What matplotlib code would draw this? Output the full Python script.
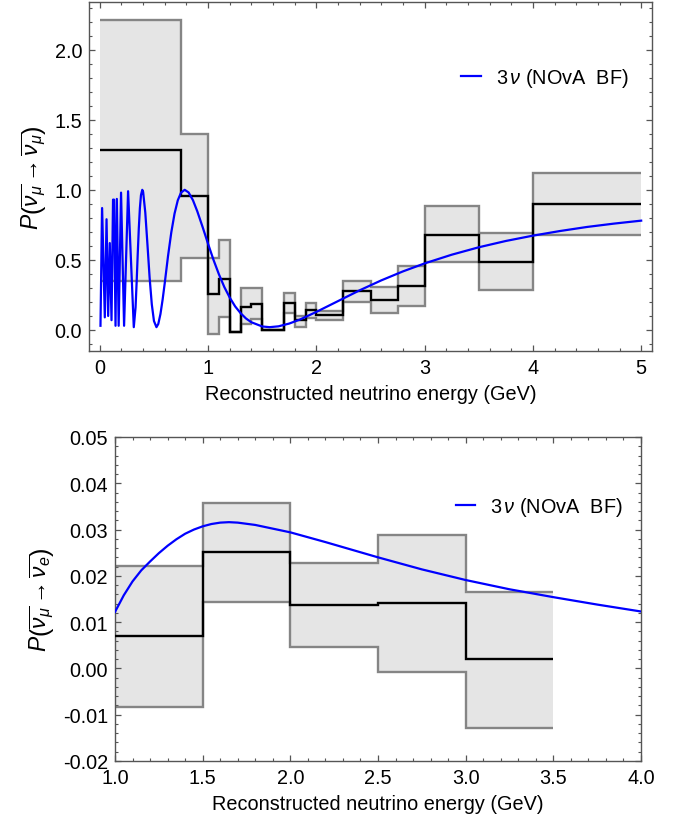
import numpy as np
import matplotlib
matplotlib.use("Agg")
import matplotlib.pyplot as plt
from matplotlib.ticker import MultipleLocator, FormatStrFormatter

plt.rcParams['font.family'] = ['Liberation Sans', 'DejaVu Sans']
plt.rcParams['mathtext.fontset'] = 'custom'
plt.rcParams['mathtext.rm'] = 'Liberation Sans'
plt.rcParams['mathtext.it'] = 'Liberation Sans:italic'
plt.rcParams['mathtext.bf'] = 'Liberation Sans:bold'
plt.rcParams['axes.unicode_minus'] = True

# ---------------- Top panel: nu_mu-bar disappearance ----------------
mu_edges = [0.0, 0.75, 1.0, 1.1, 1.2, 1.3, 1.4, 1.5, 1.6, 1.7, 1.8, 1.9, 2.0,
            2.25, 2.5, 2.75, 3.0, 3.5, 4.0, 5.0]
mu_center = [1.284, 0.957, 0.255, 0.367, -0.016, 0.167, 0.184, 0.0, 0.0, 0.196,
             0.07, 0.14, 0.107, 0.276, 0.214, 0.314, 0.679, 0.486, 0.898]
mu_upper = [2.214, 1.40, 0.517, 0.643, -0.016, 0.303, 0.303, 0.0, 0.0, 0.267,
            0.10, 0.196, 0.136, 0.35, 0.31, 0.457, 0.881, 0.691, 1.119]
mu_lower = [0.35, 0.517, -0.031, 0.093, -0.016, 0.041, 0.076, 0.0, 0.0, 0.124,
            0.02, 0.082, 0.071, 0.203, 0.124, 0.171, 0.486, 0.286, 0.679]

mu_curve_E = [0.006, 0.021, 0.046, 0.062, 0.077, 0.092, 0.108, 0.122, 0.131, 0.145,
              0.157, 0.174, 0.196, 0.224, 0.261, 0.3136, 0.33, 0.34, 0.35, 0.36,
              0.37, 0.38, 0.392, 0.40, 0.42, 0.44, 0.46, 0.48, 0.50, 0.523, 0.54,
              0.56, 0.58, 0.60, 0.63, 0.66, 0.69, 0.72, 0.75, 0.784, 0.82, 0.86,
              0.90, 0.95, 1.00, 1.05, 1.10, 1.15, 1.20, 1.25, 1.30, 1.35, 1.40,
              1.50, 1.568, 1.65, 1.75, 1.85, 2.00, 2.20, 2.40, 2.60, 2.80, 3.00,
              3.25, 3.50, 3.75, 4.00, 4.25, 4.50, 4.75, 5.00]
mu_curve_P = [0.03, 0.87, 0.09, 0.79, 0.10, 0.62, 0.07, 0.93, 0.93, 0.03,
              0.935, 0.03, 0.98, 0.03, 0.99, 0.02, 0.161, 0.341, 0.540, 0.725,
              0.869, 0.962, 1.0, 0.985, 0.837, 0.608, 0.372, 0.183, 0.064, 0.02, 0.043,
              0.114, 0.217, 0.337, 0.528, 0.696, 0.830, 0.925, 0.980, 1.0, 0.981, 0.926,
              0.847, 0.733, 0.614, 0.500, 0.397, 0.306, 0.231, 0.168, 0.120, 0.082, 0.055,
              0.025, 0.02, 0.026, 0.046, 0.075, 0.129, 0.206, 0.283, 0.354, 0.418, 0.475,
              0.537, 0.590, 0.635, 0.673, 0.706, 0.735, 0.759, 0.780]

# ---------------- Bottom panel: nu_e-bar appearance ----------------
e_edges = [1.0, 1.5, 2.0, 2.5, 3.0, 3.5]
e_center = [0.0069, 0.0251, 0.0138, 0.0141, 0.0020]
e_upper = [0.0222, 0.0357, 0.0227, 0.0289, 0.0166]
e_lower = [-0.0083, 0.0144, 0.0047, -0.0007, -0.0128]

e_curve_E = [1.00, 1.05, 1.10, 1.15, 1.20, 1.25, 1.30, 1.35, 1.40, 1.45, 1.50, 1.55,
             1.60, 1.65, 1.70, 1.80, 1.90, 2.00, 2.20, 2.40, 2.50, 2.75, 3.00, 3.25,
             3.50, 3.75, 4.00]
e_curve_P = [0.0122, 0.0158, 0.0188, 0.0212, 0.0231, 0.0249, 0.0265, 0.0279, 0.0291,
             0.0300, 0.0307, 0.0312, 0.0315, 0.0316, 0.0315, 0.0310, 0.0302, 0.0294,
             0.0273, 0.0251, 0.0240, 0.0214, 0.0191, 0.0171, 0.0154, 0.0138, 0.0123]

legend_label = r'3$\,\mathit{\nu}$ (NOvA  BF)'

FILL = '#e5e5e5'
EDGE = '#858585'
FRAME = '#555555'
FS = 14.3

W, H = 679, 829
fig = plt.figure(figsize=(W / 100, H / 100), dpi=100)

ax1 = fig.add_axes([89 / W, 1 - 352 / H, (652 - 89) / W, (352 - 3) / H])
ax2 = fig.add_axes([115 / W, 1 - 762 / H, (641 - 115) / W, (762 - 438) / H])


def draw(ax, edges, center, upper, lower, cE, cP):
    ax.stairs(upper, edges, baseline=lower, fill=True, color=FILL, lw=0, zorder=1)
    ax.stairs(upper, edges, baseline=None, color=EDGE, lw=1.7, zorder=2)
    ax.stairs(lower, edges, baseline=None, color=EDGE, lw=1.7, zorder=2)
    ax.stairs(center, edges, baseline=None, color='black', lw=1.7, zorder=3)
    ax.plot(cE, cP, color='#0000ff', lw=1.6, zorder=4, label=legend_label)


def style(ax):
    for s in ax.spines.values():
        s.set_color(FRAME)
        s.set_linewidth(1.0)
    ax.tick_params(which='both', direction='in', top=True, right=True,
                   color=FRAME, labelsize=FS, labelcolor='black')
    ax.tick_params(which='major', length=4.5, width=0.9, pad=5)
    ax.tick_params(which='minor', length=2.5, width=0.8)


draw(ax1, mu_edges, mu_center, mu_upper, mu_lower, mu_curve_E, mu_curve_P)
ax1.set_xlim(-0.1, 5.1)
ax1.set_ylim(-0.15, 2.34)
ax1.xaxis.set_major_locator(MultipleLocator(1))
ax1.xaxis.set_minor_locator(MultipleLocator(0.2))
ax1.yaxis.set_major_locator(MultipleLocator(0.5))
ax1.yaxis.set_minor_locator(MultipleLocator(0.1))
ax1.xaxis.set_major_formatter(FormatStrFormatter('%d'))
ax1.yaxis.set_major_formatter(FormatStrFormatter('%.1f'))
style(ax1)
ax1.set_xlabel('Reconstructed neutrino energy (GeV)', fontsize=FS, labelpad=5)
ax1.set_ylabel(r'$P\left(\overline{\nu_\mu}\rightarrow\overline{\nu_\mu}\right)$',
               fontsize=16.5, labelpad=4)
ax1.legend(loc='upper right', bbox_to_anchor=(0.99, 0.868), frameon=False,
           fontsize=FS, handlelength=1.0, handletextpad=0.75)

draw(ax2, e_edges, e_center, e_upper, e_lower, e_curve_E, e_curve_P)
ax2.set_xlim(1.0, 4.0)
ax2.set_ylim(-0.02, 0.05)
ax2.xaxis.set_major_locator(MultipleLocator(0.5))
ax2.xaxis.set_minor_locator(MultipleLocator(0.1))
ax2.yaxis.set_major_locator(MultipleLocator(0.01))
ax2.yaxis.set_minor_locator(MultipleLocator(0.002))
ax2.xaxis.set_major_formatter(FormatStrFormatter('%.1f'))
ax2.yaxis.set_major_formatter(FormatStrFormatter('%.2f'))
style(ax2)
ax2.set_xlabel('Reconstructed neutrino energy (GeV)', fontsize=FS, labelpad=5)
ax2.set_ylabel(r'$P\left(\overline{\nu_\mu}\rightarrow\overline{\nu_e}\right)$',
               fontsize=16.5, labelpad=4)
ax2.legend(loc='upper right', bbox_to_anchor=(1.0, 0.876), frameon=False,
           fontsize=FS, handlelength=1.0, handletextpad=0.75)

fig.savefig('out.png', dpi=100)
